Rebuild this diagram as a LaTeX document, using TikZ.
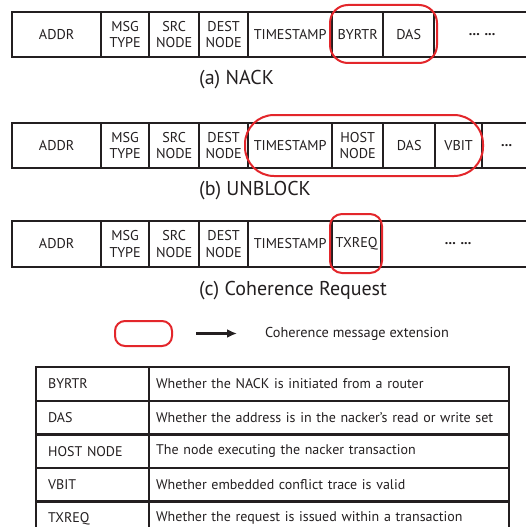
\documentclass[tikz,border=0pt]{standalone}
\usepackage{fontspec}
\setmainfont{PT Sans}
\usetikzlibrary{arrows.meta}
\definecolor{ink}{HTML}{231F20}
\definecolor{extred}{HTML}{E3262B}

\begin{document}
\begin{tikzpicture}[x=1pt,y=-1pt,
  cell/.style={draw=ink, line width=2.3pt, inner sep=0pt, minimum height=45pt,
    align=center, font=\fontsize{14.2}{16.5}\selectfont, text=ink, anchor=west},
  caption/.style={anchor=west, inner sep=0pt, text=ink, font=\fontsize{20}{23}\selectfont},
  ext/.style={draw=extred, line width=2pt, inner sep=0pt},
  keycell/.style={draw=ink, line width=2.3pt, anchor=north west, minimum height=33.6pt,
    inner ysep=0pt, inner xsep=12pt, text width=89pt, align=left, text=ink,
    font=\fontsize{14}{16}\selectfont},
  desccell/.style={draw=ink, line width=2.3pt, anchor=north west, minimum height=33.6pt,
    inner ysep=0pt, inner xsep=7pt, text width=346pt, align=left, text=ink,
    font=\fontsize{14}{16}\selectfont},
]
\useasboundingbox (0,0) rectangle (526,527);
\clip (0,0) rectangle (526,527);

% ---- (a) NACK ----
\node[cell, minimum width=89] (a1) at (11,34.5) {ADDR};
\node[cell, minimum width=48] (a2) at (100,34.5) {MSG\\TYPE};
\node[cell, minimum width=50] (a3) at (148,34.5) {SRC\\NODE};
\node[cell, minimum width=49] (a4) at (198,34.5) {DEST\\NODE};
\node[cell, minimum width=84] (a5) at (247,34.5) {TIMESTAMP};
\node[cell, minimum width=51] (a6) at (331,34.5) {BYRTR};
\node[cell, minimum width=51] (a7) at (382,34.5) {DAS};
\node[cell, minimum width=96] (a8) at (433,34.5) {\textbf{... ...}};
\node[ext, rounded corners=18pt, minimum width=107, minimum height=58] (exta) at (383.5,34) {};
\node[caption] (capa) at (199,80) {(a) NACK};

% ---- (b) UNBLOCK ----
\node[cell, minimum width=89] (b1) at (11,145.5) {ADDR};
\node[cell, minimum width=48] (b2) at (100,145.5) {MSG\\TYPE};
\node[cell, minimum width=50] (b3) at (148,145.5) {SRC\\NODE};
\node[cell, minimum width=49] (b4) at (198,145.5) {DEST\\NODE};
\node[cell, minimum width=84] (b5) at (247,145.5) {TIMESTAMP};
\node[cell, minimum width=51] (b6) at (331,145.5) {HOST\\NODE};
\node[cell, minimum width=52] (b7) at (382,145.5) {DAS};
\node[cell, minimum width=47] (b8) at (434,145.5) {VBIT};
\node[cell, minimum width=49] (b9) at (481,145.5) {\textbf{...}};
\node[ext, rounded corners=29pt, minimum width=238, minimum height=61] (extb) at (364,145.5) {};
\node[caption] (capb) at (199,191) {(b) UNBLOCK};

% ---- (c) Coherence Request ----
\node[cell, minimum width=89, minimum height=46] (c1) at (11,244) {ADDR};
\node[cell, minimum width=48, minimum height=46] (c2) at (100,244) {MSG\\TYPE};
\node[cell, minimum width=50, minimum height=46] (c3) at (148,244) {SRC\\NODE};
\node[cell, minimum width=49, minimum height=46] (c4) at (198,244) {DEST\\NODE};
\node[cell, minimum width=84, minimum height=46] (c5) at (247,244) {TIMESTAMP};
\node[cell, minimum width=49, minimum height=46] (c6) at (331,244) {TXREQ};
\node[cell, minimum width=154, minimum height=46] (c7) at (380,244) {\textbf{... ...}};
\node[ext, rounded corners=12pt, minimum width=52, minimum height=59] (extc) at (356,243.5) {};
\node[caption] (capc) at (199,291) {(c) Coherence Request};

% ---- legend ----
\node[ext, rounded corners=10pt, minimum width=57, minimum height=25] (legmark) at (143.5,333.5) {};
\node[anchor=west, inner sep=0pt, text=ink, font=\fontsize{14.3}{16}\selectfont] (legtext) at (265,333.5) {Coherence message extension};
\draw[ink, line width=2.2pt, -{Latex[length=10pt,width=9pt]}, shorten <=23pt, shorten >=28pt] (legmark) -- (legtext);

% ---- field descriptions ----
\node[keycell] (k1) at (35,366) {BYRTR};
\node[desccell] (d1) at (148,366) {Whether the NACK is initiated from a router};
\node[keycell] (k2) at (35,399.6) {DAS};
\node[desccell] (d2) at (148,399.6) {Whether the address is in the nacker’s read or write set};
\node[keycell] (k3) at (35,433.2) {HOST NODE};
\node[desccell] (d3) at (148,433.2) {The node executing the nacker transaction};
\node[keycell] (k4) at (35,466.8) {VBIT};
\node[desccell] (d4) at (148,466.8) {Whether embedded conflict trace is valid};
\node[keycell] (k5) at (35,500.4) {TXREQ};
\node[desccell] (d5) at (148,500.4) {Whether the request is issued within a transaction};
\end{tikzpicture}
\end{document}
